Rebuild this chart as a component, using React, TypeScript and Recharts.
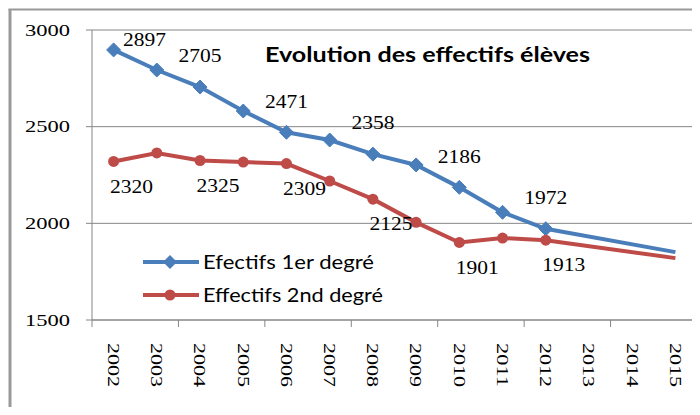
import React from "react";
import { LineChart, Line, XAxis, YAxis, CartesianGrid } from "recharts";

const YEARS = ["2002", "2003", "2004", "2005", "2006", "2007", "2008", "2009", "2010", "2011", "2012", "2013", "2014", "2015"];
const PREMIER = [2897, 2793, 2705, 2581, 2471, 2431, 2358, 2302, 2186, 2057, 1972, null, null, 1851];
const SECOND = [2320, 2364, 2325, 2317, 2309, 2219, 2125, 2005, 1901, 1924, 1913, null, null, 1820];
const Y_TICKS = [1500, 2000, 2500, 3000];
const SERIES_NAMES = ["Efectifs 1er degré", "Effectifs 2nd degré"];
const TITLE = "Evolution des effectifs élèves";

const BLUE = "#4A7EBB";
const RED = "#BE4B48";
const AXIS = "#868686";
const SERIF = "'Liberation Serif', 'DejaVu Serif', serif";
const SANS = "Lato, 'Open Sans', sans-serif";

const W = 700;
const H = 415;
const PLOT_LEFT = 92;
const PLOT_RIGHT = 697;
const PLOT_TOP = 30;
const PLOT_BOTTOM = 320;
const BAND = (PLOT_RIGHT - PLOT_LEFT) / YEARS.length;
const LAST = YEARS.length - 1;

const data = YEARS.map((year, i) => ({ year, premier: PREMIER[i], second: SECOND[i] }));

const numText = (x: number, y: number, value: any) => (
  <text x={x} y={y} textAnchor="middle" dy="0.35em" fontFamily={SERIF} fontSize={18}
    fill="#000" textLength={43} lengthAdjust="spacingAndGlyphs">
    {value}
  </text>
);

function XTick(props: any) {
  const { x, payload, index } = props;
  return (
    <g>
      <text transform={`translate(${x},${PLOT_BOTTOM + 23}) rotate(90)`} textAnchor="start" dy="0.33em"
        fontFamily={SERIF} fontSize={17} fill="#000" textLength={44} lengthAdjust="spacingAndGlyphs">
        {payload.value}
      </text>
      {index % 2 === 0 && (
        <line x1={x - BAND / 2} x2={x - BAND / 2} y1={PLOT_BOTTOM} y2={PLOT_BOTTOM + 7} stroke={AXIS} />
      )}
      {index === LAST && (
        <line x1={x + BAND / 2} x2={x + BAND / 2} y1={PLOT_BOTTOM} y2={PLOT_BOTTOM + 7} stroke={AXIS} />
      )}
    </g>
  );
}

function YTick(props: any) {
  const { y, payload } = props;
  return (
    <text x={70} y={y} textAnchor="end" dy="0.33em" fontFamily={SERIF} fontSize={17} fill="#000"
      textLength={45} lengthAdjust="spacingAndGlyphs">
      {payload.value}
    </text>
  );
}

const diamond = (cx: number, cy: number, r: number) =>
  `M${cx},${cy - r} L${cx + r},${cy} L${cx},${cy + r} L${cx - r},${cy} Z`;

function BlueDot(props: any) {
  const { cx, cy, index } = props;
  if (cy == null || index === LAST) return <g key={index} />;
  return <path key={index} d={diamond(cx, cy, 7)} fill={BLUE} stroke={BLUE} strokeWidth={1} />;
}

function RedDot(props: any) {
  const { cx, cy, index } = props;
  if (cy == null || index === LAST) return <g key={index} />;
  return <circle key={index} cx={cx} cy={cy} r={5.5} fill={RED} />;
}

function BlueLabel(props: any) {
  const { x, y, value, index } = props;
  if (value == null || index % 2 !== 0 || index === LAST) return null;
  if (index === 0) return numText(x + 31, y - 10, value);
  return numText(x, y - 31, value);
}

function RedLabel(props: any) {
  const { x, y, value, index } = props;
  if (value == null || index % 2 !== 0 || index === LAST) return null;
  return numText(x + 18, y + 25, value);
}

const LEGEND = [
  { name: SERIES_NAMES[0], color: BLUE, width: 171 },
  { name: SERIES_NAMES[1], color: RED, width: 180 },
];

export default function App() {
  return (
    <div style={{ position: "relative", width: W, height: H, margin: -8, background: "#fff", overflow: "hidden" }}>
      <LineChart width={W} height={H} data={data}
        margin={{ top: PLOT_TOP, right: W - PLOT_RIGHT, bottom: 0, left: 0 }}>
        <CartesianGrid vertical={false} stroke={AXIS} strokeWidth={1} />
        <XAxis dataKey="year" interval={0} height={H - PLOT_BOTTOM} tick={<XTick />} tickLine={false}
          padding={{ left: BAND / 2, right: BAND / 2 }} axisLine={{ stroke: AXIS }} />
        <YAxis width={PLOT_LEFT} domain={[1500, 3000]} ticks={Y_TICKS} interval={0} tick={<YTick />}
          tickLine={{ stroke: AXIS }} tickSize={6} axisLine={{ stroke: AXIS }} />
        <Line type="linear" dataKey="premier" name={SERIES_NAMES[0]} stroke={BLUE} strokeWidth={4}
          dot={<BlueDot />} activeDot={false} connectNulls isAnimationActive={false} label={<BlueLabel />} />
        <Line type="linear" dataKey="second" name={SERIES_NAMES[1]} stroke={RED} strokeWidth={4}
          dot={<RedDot />} activeDot={false} connectNulls isAnimationActive={false} label={<RedLabel />} />
      </LineChart>
      <svg width={W} height={H} style={{ position: "absolute", left: 0, top: 0, pointerEvents: "none" }}>
        <text x={265} y={62} fontFamily={SANS} fontWeight={700} fontSize={20} fill="#000"
          textLength={325} lengthAdjust="spacingAndGlyphs">
          {TITLE}
        </text>
        {LEGEND.map((entry, i) => {
          const cy = 262 + i * 33;
          return (
            <g key={entry.name}>
              <line x1={143} x2={199} y1={cy} y2={cy} stroke={entry.color} strokeWidth={4} />
              {i === 0 ? (
                <path d={diamond(170, cy, 7)} fill={entry.color} />
              ) : (
                <circle cx={170} cy={cy} r={5.5} fill={entry.color} />
              )}
              <text x={203} y={cy} dy="0.36em" fontFamily={SANS} fontSize={19} fill="#000"
                textLength={entry.width} lengthAdjust="spacingAndGlyphs">
                {entry.name}
              </text>
            </g>
          );
        })}
        <line x1={6.5} x2={6.5} y1={7} y2={H} stroke="#222" />
        <line x1={6} x2={W} y1={7.5} y2={7.5} stroke="#222" />
        <line x1={10} x2={10} y1={9} y2={H} stroke="#999" strokeWidth={3} />
        <line x1={8.5} x2={W} y1={9.5} y2={9.5} stroke="#999" strokeWidth={2} />
      </svg>
    </div>
  );
}
